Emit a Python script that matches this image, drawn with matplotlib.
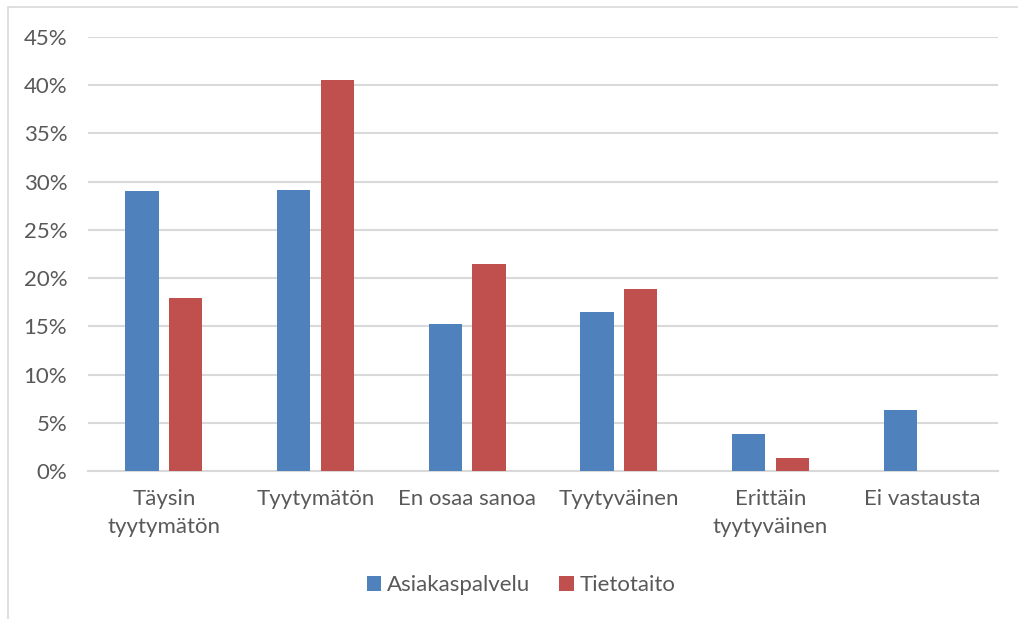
import matplotlib.pyplot as plt
import numpy as np
from matplotlib.patches import Rectangle
from matplotlib.ticker import PercentFormatter

# data
categories = ['Täysin\ntyytymätön', 'Tyytymätön', 'En osaa sanoa',
              'Tyytyväinen', 'Erittäin\ntyytyväinen', 'Ei vastausta']
asiakaspalvelu = [29.0, 29.1, 15.2, 16.5, 3.8, 6.3]
tietotaito = [17.9, 40.5, 21.5, 18.9, 1.3, 0.0]
series_names = ['Asiakaspalvelu', 'Tietotaito']

plt.rcParams['font.family'] = ['Lato', 'DejaVu Sans']
text_col = '#595959'
grid_col = '#d9d9d9'
fs = 16

fig = plt.figure(figsize=(10.18, 6.19), dpi=100)
ax = fig.add_axes([88 / 1018, 1 - 471 / 619, 910 / 1018, 434 / 619])

# light chart-area border (left and top visible)
fig.patches.append(Rectangle((8 / 1018, -0.1), 1.2, (619 - 7) / 619 + 0.1,
                             transform=fig.transFigure, fill=False,
                             edgecolor=grid_col, linewidth=1.2))

x = np.arange(len(categories))
w = 0.22
off = 0.143
ax.bar(x - off, asiakaspalvelu, w, color='#4f81bd', label=series_names[0], zorder=3)
ax.bar(x + off, tietotaito, w, color='#c0504d', label=series_names[1], zorder=3)

ax.set_xlim(-0.5, len(categories) - 0.5)
ax.set_ylim(0, 45)
ax.set_yticks(np.arange(0, 46, 5))
ax.yaxis.set_major_formatter(PercentFormatter(decimals=0))
ax.grid(axis='y', color=grid_col, linewidth=1.5, zorder=0)

for s in ['top', 'right', 'left']:
    ax.spines[s].set_visible(False)
ax.spines['bottom'].set_color(grid_col)
ax.spines['bottom'].set_linewidth(1.5)

ax.set_xticks(x)
ax.set_xticklabels(categories, linespacing=1.5)
ax.tick_params(axis='both', length=0, colors=text_col, labelsize=fs)
ax.tick_params(axis='x', pad=13)
ax.tick_params(axis='y', pad=15)

leg = fig.legend(loc='center', bbox_to_anchor=(521 / 1018, 1 - 585 / 619), ncol=2,
                 frameon=False, fontsize=fs, handlelength=0.65, handleheight=0.65,
                 handletextpad=0.25, columnspacing=1.3)
for t in leg.get_texts():
    t.set_color(text_col)

plt.savefig('out.png', dpi=100)
